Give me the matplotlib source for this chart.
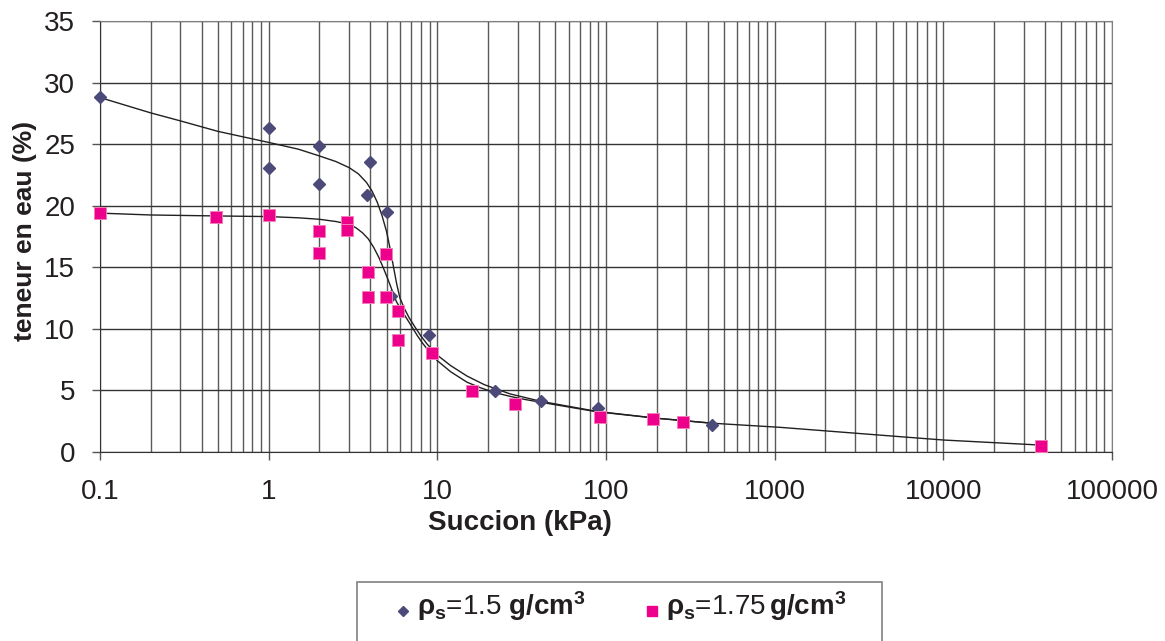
import matplotlib
matplotlib.use("Agg")
import matplotlib.pyplot as plt
from matplotlib.lines import Line2D
from matplotlib.patches import Rectangle
from matplotlib.ticker import LogLocator, NullFormatter

plt.rcParams["font.family"] = ["Liberation Sans", "DejaVu Sans"]
plt.rcParams["mathtext.fontset"] = "custom"
plt.rcParams["mathtext.rm"] = "Liberation Sans"
plt.rcParams["mathtext.bf"] = "Liberation Sans:bold"
plt.rcParams["mathtext.it"] = "Liberation Sans:italic"

# measured points, rho_s = 1.5 g/cm3 (diamonds)
succ_15 = [0.1, 1, 1, 2, 2, 4, 3.85, 5, 5.3, 8.9, 22, 41, 90, 425]
w_15 = [28.85, 26.3, 23.1, 24.9, 21.75, 23.55, 20.9, 19.5, 12.7, 9.5, 4.95, 4.1, 3.55, 2.2]

# measured points, rho_s = 1.75 g/cm3 (squares)
succ_175 = [0.1, 0.49, 1, 2, 2, 2.93, 2.93, 3.9, 3.9, 4.97, 4.97, 5.88, 5.88, 9.27, 16, 29, 92, 190, 286, 38000]
w_175 = [19.4, 19.1, 19.25, 17.95, 16.15, 18.65, 18.0, 14.65, 12.6, 16.1, 12.6, 11.45, 9.1, 8.05, 4.9, 3.9, 2.85, 2.65, 2.45, 0.45]

# fitted curves
fit_x_15 = [0.1, 0.2, 0.3, 0.5, 1.0, 1.5, 2.0, 2.5, 3.0, 3.4, 3.8, 4.1, 4.4, 4.7, 5.0, 5.25,
            5.5, 5.75, 6.0, 6.4, 6.8, 7.4, 8.0, 8.7, 10, 12, 15, 19, 27, 41, 88, 200, 430]
fit_y_15 = [28.8, 27.55, 26.9, 26.05, 25.15, 24.6, 24.05, 23.6, 23.1, 22.6, 21.9, 21.2, 20.3, 19.2,
            17.9, 16.5, 15.0, 13.6, 12.5, 11.6, 10.9, 10.1, 9.4, 8.75, 7.85, 7.0, 6.15, 5.45,
            4.7, 4.1, 3.28, 2.72, 2.31]

fit_x_175 = [0.1, 0.2, 0.5, 1.0, 1.5, 2.0, 2.5, 3.0, 3.3, 3.6, 3.9, 4.2, 4.5, 4.8, 5.1, 5.4,
             5.7, 6.0, 6.5, 7.0, 7.6, 8.2, 9.0, 10, 12, 15, 18, 22, 27, 33, 41, 88, 200, 434,
             1080, 5560, 10000, 37600]
fit_y_175 = [19.4, 19.25, 19.17, 19.12, 19.02, 18.9, 18.72, 18.5, 18.2, 17.8, 17.3, 16.6, 15.8,
             14.9, 14.0, 13.1, 12.25, 11.7, 10.95, 10.25, 9.45, 8.8, 8.1, 7.4, 6.5, 5.65, 5.2,
             4.8, 4.5, 4.25, 4.02, 3.25, 2.72, 2.31, 1.98, 1.22, 0.95, 0.54]

x_ticks = [0.1, 1, 10, 100, 1000, 10000, 100000]
x_tick_labels = ["0.1", "1", "10", "100", "1000", "10000", "100000"]
y_ticks = [0, 5, 10, 15, 20, 25, 30, 35]

W, H = 1165, 641
txt = "#231F20"
grid_c = "#5a5a5a"
c_15 = "#4B4A78"
c_175 = "#EC008C"

fig = plt.figure(figsize=(W / 100, H / 100), dpi=100)
ax = fig.add_axes([100 / W, 1 - 451.7 / H, 1012 / W, 430.4 / H])

ax.plot(fit_x_15, fit_y_15, color=txt, lw=1.0, zorder=3)
ax.plot(fit_x_175, fit_y_175, color=txt, lw=1.0, zorder=3)
ax.plot(succ_15, w_15, ls="none", marker="D", ms=6, color=c_15, mec=c_15, zorder=4, clip_on=False)
ax.plot(succ_175, w_175, ls="none", marker="s", ms=8, color=c_175, mec="#F27DB8", mew=0.7,
        zorder=4, clip_on=False)

ax.set_xscale("log")
ax.set_xlim(0.1, 100000)
ax.set_ylim(0, 35)
ax.set_xticks(x_ticks)
ax.set_xticklabels(x_tick_labels)
ax.set_yticks(y_ticks)
ax.xaxis.set_minor_locator(LogLocator(base=10, subs=range(2, 10), numticks=50))
ax.xaxis.set_minor_formatter(NullFormatter())

ax.grid(True, which="both", axis="x", color=grid_c, lw=1.0)
ax.grid(True, which="major", axis="y", color="#333333", lw=1.0)
ax.set_axisbelow(True)

ax.tick_params(which="minor", length=0)
ax.tick_params(which="major", direction="out", length=6, width=1, color="#555555",
               labelsize=20, labelcolor=txt)
ax.tick_params(axis="y", pad=12)
ax.tick_params(axis="x", pad=14)

for s in ["left", "bottom"]:
    ax.spines[s].set_color("#333333")
for s in ["top", "right"]:
    ax.spines[s].set_color("#808080")

ax.set_xlabel("Succion (kPa)", fontsize=20, fontweight="bold", color=txt)
ax.xaxis.set_label_coords(0.415, -0.166)
ax.xaxis.label.set_verticalalignment("center")
ax.set_ylabel("teneur en eau (%)", fontsize=19, fontweight="bold", color=txt)
ax.yaxis.set_label_coords(-0.074, 0.513)
ax.yaxis.label.set_verticalalignment("center")

# legend box
fig.add_artist(Rectangle((357 / W, -0.05), (882 - 357) / W, 0.05 + 1 - 582 / H,
                         transform=fig.transFigure, fill=False, edgecolor="#808080", lw=1.2))
ly = 1 - 611 / H
fig.add_artist(Line2D([403 / W], [ly], transform=fig.transFigure, marker="D", ms=5.5,
                      color=c_15, ls="none"))
fig.text(417 / W, 1 - 606 / H, r"$\mathbf{\rho_s}$=1.5 $\mathbf{g/cm^3}$", fontsize=20,
         color=txt, va="center", ha="left")
fig.add_artist(Line2D([652 / W], [ly], transform=fig.transFigure, marker="s", ms=7.5,
                      color=c_175, ls="none"))
fig.text(666 / W, 1 - 606 / H, r"$\mathbf{\rho_s}$=1.75$\,\mathbf{g/cm^3}$", fontsize=20,
         color=txt, va="center", ha="left")

fig.savefig("out.png", dpi=100)
